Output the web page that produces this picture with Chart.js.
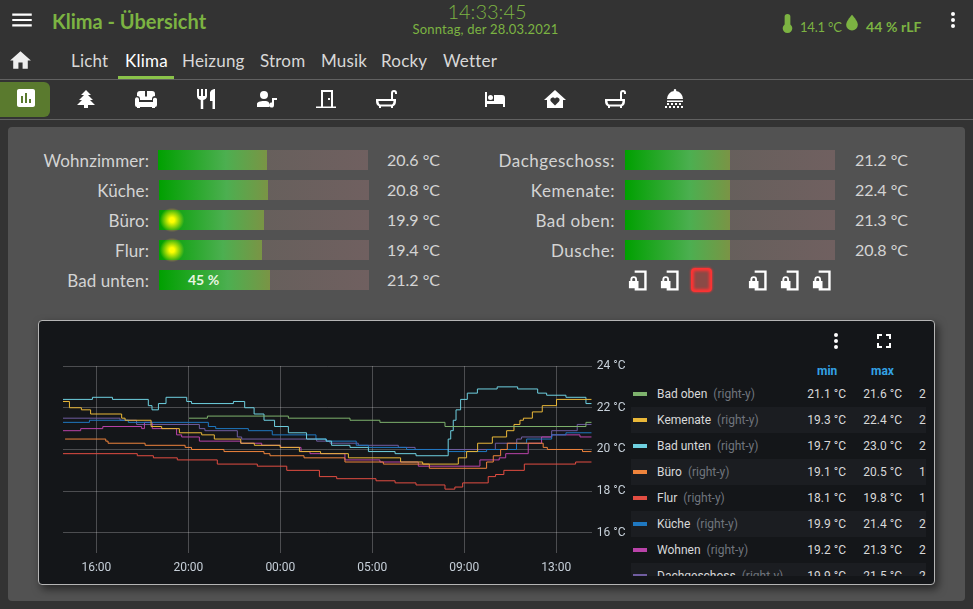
<!DOCTYPE html>
<html>
<head>
<meta charset="utf-8">
<script src="https://cdn.jsdelivr.net/npm/chart.js@4"></script>
<style>
html,body{margin:0;padding:0;width:973px;height:609px;overflow:hidden;background:#333;font-family:Lato,sans-serif;}
.t{position:absolute;white-space:nowrap;line-height:1;}
.abs{position:absolute;}
svg{position:absolute;fill:#fff;}
#panel{position:absolute;left:8px;top:127px;width:957px;height:474px;background:#525252;border-radius:4px;}
#card{position:absolute;left:38px;top:320px;width:895px;height:263px;background:#141619;border:1px solid #b5b5b5;border-radius:4px;box-shadow:3px 4px 8px rgba(0,0,0,.55);}
#chartBox{position:absolute;left:40px;top:350px;}
#legend{position:absolute;left:631px;top:381px;width:295px;height:195px;overflow:hidden;font-family:Roboto,sans-serif;font-size:12px;}
.row{position:absolute;left:0;width:295px;height:26px;line-height:26px;white-space:nowrap;}
.row span{position:absolute;top:0;}
</style>
</head>
<body>
<div id="panel"></div>
<div id="card"></div>
<div id="chartBox"><canvas id="klimaChart" width="590" height="230"></canvas></div>
<div id="legend"></div>
<script>
// hours since 16:00 (real time, the clock jumps 02:00 -> 03:00 that night)
const xTickHours = [0, 4, 8, 12, 16, 20];
const xTickLabels = ['16:00', '20:00', '00:00', '05:00', '09:00', '13:00'];
const yTicks = [16, 18, 20, 22, 24];

const badObenHours = [4.03, 4.83, 8.35, 11.03, 12.33, 15.16, 21.29, 21.54];
const badObenTemps = [21.5, 21.6, 21.5, 21.4, 21.3, 21.1, 21.3, 21.3];

const kemenateHours = [-1.45, -1.17, -0.65, -0.25, 1.10, 1.25, 2.38, 2.84, 3.61, 4.58, 5.13, 6.28, 6.87, 7.99, 8.83, 9.75, 10.96, 13.23, 14.19, 15.74, 16.10, 16.58, 17.22, 17.84, 18.16, 18.42, 18.57, 18.96, 19.39, 20.01, 21.54];
const kemenateTemps = [22.3, 22.0, 21.9, 21.7, 21.5, 21.4, 21.1, 21.0, 20.8, 20.7, 20.5, 20.3, 20.2, 20.1, 19.9, 19.8, 19.6, 19.4, 19.3, 19.6, 19.9, 20.3, 20.6, 20.9, 21.2, 21.4, 21.5, 21.8, 22.1, 22.4, 22.4];

const badUntenHours = [-1.45, -0.17, 0.70, 2.26, 2.42, 2.70, 3.03, 3.93, 4.14, 5.96, 6.45, 6.86, 7.29, 7.75, 8.35, 9.14, 9.99, 10.23, 11.03, 11.83, 12.99, 13.90, 15.30, 15.41, 15.52, 15.64, 15.84, 16.13, 16.57, 17.43, 18.32, 19.19, 19.58, 20.42, 21.29, 21.54];
const badUntenTemps = [22.4, 22.5, 22.4, 22.1, 21.9, 22.2, 22.5, 22.3, 22.2, 22.3, 22.0, 21.7, 21.4, 21.1, 20.8, 20.5, 20.4, 20.2, 20.1, 19.9, 19.8, 19.7, 20.5, 20.9, 21.4, 21.9, 22.4, 22.7, 22.9, 23.0, 22.9, 22.7, 22.6, 22.5, 22.2, 22.2];

const bueroHours = [-1.36, 0.41, 0.51, 2.12, 3.86, 4.14, 5.55, 7.29, 7.55, 9.03, 10.81, 12.48, 14.48, 16.97, 17.26, 17.58, 17.87, 19.43, 19.61, 21.14, 21.54];
const bueroTemps = [20.5, 20.4, 20.3, 20.2, 20.1, 20.0, 19.9, 19.8, 19.7, 19.6, 19.4, 19.3, 19.1, 19.4, 19.7, 20.0, 20.3, 20.1, 20.0, 19.9, 19.9];

const flurHours = [-1.45, 1.78, 2.48, 3.52, 5.26, 7.00, 8.28, 9.70, 10.45, 12.16, 12.99, 13.90, 15.16, 15.59, 15.93, 17.04, 17.36, 17.72, 18.61, 20.84, 21.54];
const flurTemps = [19.8, 19.7, 19.6, 19.5, 19.3, 19.2, 19.0, 18.7, 18.6, 18.5, 18.4, 18.3, 18.1, 18.2, 18.4, 18.7, 18.8, 19.0, 19.3, 19.4, 19.4];

const kuecheHours = [-1.45, -0.30, 1.39, 4.87, 5.19, 6.61, 7.65, 9.55, 10.01, 11.30, 11.83, 13.49, 15.30, 16.97, 18.27, 18.71, 19.80, 20.42, 21.54];
const kuecheTemps = [21.3, 21.4, 21.3, 21.1, 21.0, 20.9, 20.7, 20.5, 20.4, 20.2, 20.1, 20.0, 19.9, 20.0, 20.3, 20.5, 20.7, 20.8, 20.8];

const wohnenHours = [-1.45, -0.68, 0.28, 1.97, 2.09, 2.43, 3.49, 3.71, 4.48, 6.28, 7.19, 8.01, 8.90, 9.29, 10.81, 12.33, 14.00, 16.68, 17.52, 17.80, 18.78, 19.36, 19.80, 21.03, 21.54];
const wohnenTemps = [20.9, 21.0, 21.1, 21.0, 21.3, 21.0, 20.7, 20.6, 20.4, 20.3, 20.2, 20.1, 19.9, 19.8, 19.5, 19.4, 19.2, 19.5, 19.6, 19.8, 20.3, 20.6, 20.7, 20.6, 20.6];

const dachHours = [-1.45, 1.03, 1.75, 4.48, 4.72, 6.13, 6.32, 9.58, 10.16, 11.39, 13.13, 13.86, 17.35, 18.28, 18.49, 19.80, 20.91, 21.54];
const dachTemps = [21.5, 21.4, 21.2, 21.0, 20.9, 20.6, 20.5, 20.4, 20.3, 20.2, 20.1, 20.0, 20.3, 20.5, 20.6, 20.9, 21.2, 21.2];

const seriesNames = ['Bad oben', 'Kemenate', 'Bad unten', 'Büro', 'Flur', 'Küche', 'Wohnen', 'Dachgeschoss'];
const seriesHours = [badObenHours, kemenateHours, badUntenHours, bueroHours, flurHours, kuecheHours, wohnenHours, dachHours];
const seriesTemps = [badObenTemps, kemenateTemps, badUntenTemps, bueroTemps, flurTemps, kuecheTemps, wohnenTemps, dachTemps];
const seriesColors = ['#7EB26D', '#EAB839', '#6ED0E0', '#EF843C', '#E24D42', '#1F78C1', '#BA43A9', '#705DA0'];
const seriesMin = ['21.1', '19.3', '19.7', '19.1', '18.1', '19.9', '19.2', '19.9'];
const seriesMax = ['21.6', '22.4', '23.0', '20.5', '19.8', '21.4', '21.3', '21.5'];
const seriesNow = ['21.3', '22.4', '22.2', '19.9', '19.4', '20.8', '20.6', '21.2'];

const navLabels = ['Licht', 'Klima', 'Heizung', 'Strom', 'Musik', 'Rocky', 'Wetter'];
const navX = [71, 125, 182, 260, 321, 381, 443];

const leftRooms = ['Wohnzimmer:', 'Küche:', 'Büro:', 'Flur:', 'Bad unten:'];
const leftTemps = ['20.6', '20.8', '19.9', '19.4', '21.2'];
const leftFill = [109, 109, 105, 103, 111];
const rightRooms = ['Dachgeschoss:', 'Kemenate:', 'Bad oben:', 'Dusche:'];
const rightTemps = ['21.2', '22.4', '21.3', '20.8'];
const rightFill = [105, 105, 105, 105];

const datasets = seriesNames.map((name, i) => ({
    label: name,
    data: seriesHours[i].map((h, k) => ({ x: h, y: seriesTemps[i][k] })),
    borderColor: seriesColors[i],
    borderWidth: 1,
    pointRadius: 0,
    stepped: true,
    fill: false
}));

new Chart(document.getElementById('klimaChart').getContext('2d'), {
    type: 'line',
    data: { datasets: datasets },
    options: {
        responsive: false,
        animation: false,
        devicePixelRatio: 1,
        layout: { padding: { left: 23, top: 16, right: 0, bottom: 0 } },
        plugins: { legend: { display: false }, tooltip: { enabled: false } },
        scales: {
            x: {
                type: 'linear',
                min: -1.45,
                max: 21.54,
                afterBuildTicks: s => { s.ticks = xTickHours.map(v => ({ value: v })); },
                afterFit: s => { s.height = 27; },
                grid: { color: 'rgba(255,255,255,0.24)', drawTicks: false },
                border: { display: false },
                ticks: {
                    color: '#c7d0d9',
                    font: { family: 'Roboto', size: 12 },
                    maxRotation: 0,
                    autoSkip: false,
                    padding: 8,
                    callback: (v, i) => xTickLabels[i]
                }
            },
            y: {
                position: 'right',
                min: 15.04,
                max: 24,
                afterBuildTicks: s => { s.ticks = yTicks.map(v => ({ value: v })); },
                afterFit: s => { s.width = 38.3; },
                grid: { color: 'rgba(255,255,255,0.24)', drawTicks: false },
                border: { display: false },
                ticks: {
                    color: '#c7d0d9',
                    font: { family: 'Roboto', size: 12 },
                    padding: 5,
                    callback: v => v + ' °C'
                }
            }
        }
    }
});

// page furniture below, nothing here is chart data
const green = '#7cb342';

function text(str, x, y, size, color, opts) {
    const o = opts || {};
    const el = document.createElement('div');
    el.className = 't';
    el.textContent = str;
    el.style.top = (y - size / 2) + 'px';
    el.style.fontSize = size + 'px';
    el.style.color = color;
    if (o.right !== undefined) { el.style.right = (973 - o.right) + 'px'; }
    else if (o.center) { el.style.left = x + 'px'; el.style.transform = 'translateX(-50%)'; }
    else { el.style.left = x + 'px'; }
    if (o.weight) el.style.fontWeight = o.weight;
    if (o.spacing) el.style.letterSpacing = o.spacing + 'px';
    document.body.appendChild(el);
    return el;
}

function box(x, y, w, h, css) {
    const el = document.createElement('div');
    el.className = 'abs';
    el.style.cssText += `left:${x}px;top:${y}px;width:${w}px;height:${h}px;` + (css || '');
    document.body.appendChild(el);
    return el;
}

function icon(path, cx, cy, size, color) {
    const ns = 'http://www.w3.org/2000/svg';
    const s = document.createElementNS(ns, 'svg');
    s.setAttribute('viewBox', '0 0 24 24');
    s.setAttribute('width', size);
    s.setAttribute('height', size);
    s.style.left = (cx - size / 2) + 'px';
    s.style.top = (cy - size / 2) + 'px';
    s.style.fill = color || '#fff';
    const p = document.createElementNS(ns, 'path');
    p.setAttribute('d', path);
    s.appendChild(p);
    document.body.appendChild(s);
}

const ICON = {
    menu: 'M3,6H21V8H3V6M3,11H21V13H3V11M3,16H21V18H3V16Z',
    dots: 'M12,16A2,2 0 0,1 14,18A2,2 0 0,1 12,20A2,2 0 0,1 10,18A2,2 0 0,1 12,16M12,10A2,2 0 0,1 14,12A2,2 0 0,1 12,14A2,2 0 0,1 10,12A2,2 0 0,1 12,10M12,4A2,2 0 0,1 14,6A2,2 0 0,1 12,8A2,2 0 0,1 10,6A2,2 0 0,1 12,4Z',
    home: 'M10,20V14H14V20H19V12H22L12,3L2,12H5V20H10Z',
    full: 'M5,5H10V7H7V10H5V5M14,5H19V10H17V7H14V5M17,14H19V19H14V17H17V14M10,17V19H5V14H7V17H10Z',
    chart: 'M19 3H5C3.9 3 3 3.9 3 5V19C3 20.1 3.9 21 5 21H19C20.1 21 21 20.1 21 19V5C21 3.9 20.1 3 19 3M9 17H7V10H9V17M13 17H11V7H13V17M17 17H15V13H17V17Z',
    tree: 'M10,21V18H3L8,13H5L10,8H7L12,3L17,8H14L19,13H16L21,18H14V21H10Z',
    sofa: 'M6 4H11V9.5H13V4H18A3 3 0 0 1 21 7V9A3 3 0 0 0 18 12V13H6V12A3 3 0 0 0 3 9V7A3 3 0 0 1 6 4M2.8 10.2A2.2 2.2 0 0 1 5 12V15H19V12A2.2 2.2 0 0 1 23 12V18A2 2 0 0 1 21 20V21H18V20H6V21H3V20A2 2 0 0 1 1 18V12A2.2 2.2 0 0 1 2.8 10.2Z',
    food: 'M11,9H9V2H7V9H5V2H3V9C3,11.12 4.66,12.84 6.75,12.97V22H9.25V12.97C11.34,12.84 13,11.12 13,9V2H11V9M16,6V14H18.5V22H21V2C18.24,2 16,4.24 16,6Z',
    person: 'M10 4A4 4 0 0 1 14 8A4 4 0 0 1 10 12A4 4 0 0 1 6 8A4 4 0 0 1 10 4M10 14C13 14 15 14.6 15 16V20H3V17C3 15 6 14 10 14M18 11H23V13H20V18A2.5 2.5 0 1 1 18 15.6V11Z',
    door: 'M2 21H22V19.6H19V3H7V19.6H2V21M9 5H17V19.6H9V5M14 11V13H16V11H14Z',
    tub: 'M2 12H17V6A3 3 0 0 1 23 6V7H21V6A1 1 0 0 0 19 6V12H22V14C22 17 21 18.5 19 19.2V21H17V19.5H7V21H5V19.2C3 18.5 2 17 2 14V12M4.5 14C4.5 16.5 5.5 17.6 7 17.6H17C18.5 17.6 19.5 16.5 19.5 14H4.5Z',
    bed: 'M2 5H4V14H11V8H19A3 3 0 0 1 22 11V20H20V17H4V20H2V5M7.5 8A2.5 2.5 0 0 1 7.5 13A2.5 2.5 0 0 1 7.5 8Z',
    heart: 'M12 3L23 13H20V21H4V13H1L12 3M12 18.5L16 14.5C17.5 12.8 16 10.5 14 10.5C13 10.5 12.4 11 12 11.6C11.6 11 11 10.5 10 10.5C8 10.5 6.5 12.8 8 14.5L12 18.5Z',
    shower: 'M12 2A1.2 1.2 0 0 1 13 4A8 8 0 0 1 20 12H4A8 8 0 0 1 11 4A1.2 1.2 0 0 1 12 2M4 13.5H20V15H4V13.5M4 16H6V18H4V16M8 16H10V18H8V16M12 16H14V18H12V16M16 16H18V18H16V16M6 19H8V21H6V19M10 19H12V21H10V19M14 19H16V21H14V19M18 19H20V21H18V19M2 19H4V21H2V19Z',
    therm: 'M15 13V5A3 3 0 0 0 9 5V13A5 5 0 1 0 15 13Z',
    drop: 'M12,21A7,7 0 0,1 5,14C5,9.5 12,2 12,2C12,2 19,9.5 19,14A7,7 0 0,1 12,21Z',
    lock: 'M8 1.5H20.5V22.5H8V20H18V4H8V1.5M7 7.5A3.5 3.5 0 0 1 10.5 11V12.5H12V20H2V12.5H3.5V11A3.5 3.5 0 0 1 7 7.5M7 9.5A1.5 1.5 0 0 0 5.5 11V12.5H8.5V11A1.5 1.5 0 0 0 7 9.5Z'
};

// header
icon(ICON.menu, 22, 20, 26);
text('Klima - Übersicht', 52, 21, 20, green, { weight: 700 });
text('14:33:45', 487, 11, 20, green, { center: true, weight: 300 });
text('Sonntag, der 28.03.2021', 485.5, 29, 13, green, { center: true, spacing: 0.2 });
icon(ICON.therm, 787, 23, 23, green);
text('14.1 °C', 800, 27, 13, green, { spacing: -0.2 });
icon(ICON.drop, 852, 23, 20, green);
text('44 % rLF', 866, 27, 14, green, { weight: 700, spacing: 0.1 });
icon(ICON.dots, 953, 20, 24);

// tabs
icon(ICON.home, 20, 60, 25, '#eee');
navLabels.forEach((label, i) => {
    text(label, navX[i], 60, 17, i === 1 ? '#fff' : '#d8d8d8', { spacing: 0.2 });
});
box(118, 76, 56, 3, 'background:#8bc34a;');
box(0, 79, 973, 1, 'background:#616161;');
box(0, 119, 973, 1, 'background:#616161;');

// room icons
box(0, 82, 50, 35, 'background:#5a7a2e;border-radius:0 6px 6px 0;');
icon(ICON.chart, 26, 98, 24);
icon(ICON.tree, 86, 99, 24);
icon(ICON.sofa, 146, 99, 24);
icon(ICON.food, 206, 99, 24);
icon(ICON.person, 266, 99, 24);
icon(ICON.door, 326, 99, 24);
icon(ICON.tub, 386, 99, 24);
icon(ICON.bed, 495, 99, 24);
icon(ICON.heart, 555, 99, 24);
icon(ICON.tub, 615, 99, 24);
icon(ICON.shower, 675, 99, 24);

// temperature bars
function bar(room, temp, fill, y, barX, labelRight, valueRight, spacing) {
    text(room, 0, y + 10, 17, '#d4d4d4', { right: labelRight, spacing: spacing });
    box(barX, y, 210, 20, 'background:linear-gradient(90deg,#5d5f58,#706060);');
    box(barX, y, fill, 20, 'background:linear-gradient(90deg,#00a000 0%,#4caf50 62%,#7a9445 100%);');
    text(temp + ' °C', 0, y + 10, 16, '#d4d4d4', { right: valueRight });
}
leftRooms.forEach((room, i) => {
    bar(room, leftTemps[i], leftFill[i], 150 + i * 30, i === 0 ? 158 : 159, 149, 440, 0.1);
});
rightRooms.forEach((room, i) => {
    bar(room, rightTemps[i], rightFill[i], 150 + i * 30, 625, 615, 908, 0.5);
});
const glow = 'background:radial-gradient(circle,#ffff00 0%,#ffff00 14%,rgba(255,255,0,0) 72%);';
box(160, 208, 24, 24, glow);
box(160, 238, 24, 24, glow);
text('45 %', 188, 280, 14, '#e8f5e0', { weight: 700 });

// door contacts
[638, 670, 758, 790, 822].forEach(x => icon(ICON.lock, x, 280, 23));
box(691, 268, 21, 24, 'border-radius:4px;background:#8a4a46;box-shadow:inset 0 0 3px 3px #f33,0 0 2px 1px rgba(255,50,50,.5);');

// card buttons
icon(ICON.dots, 836, 341, 24);
icon(ICON.full, 884, 341, 24);

// legend table
text('min', 817, 371, 12, '#33a2e5', { weight: 700 }).style.fontFamily = 'Roboto';
text('max', 871, 371, 12, '#33a2e5', { weight: 700 }).style.fontFamily = 'Roboto';
const legend = document.getElementById('legend');
seriesNames.forEach((name, i) => {
    const row = document.createElement('div');
    row.className = 'row';
    row.style.top = (i * 26) + 'px';
    if (i % 2 === 1) row.style.background = '#1b1d21';
    row.innerHTML =
        `<i style="position:absolute;left:2px;top:11px;width:14px;height:4px;background:${seriesColors[i]}"></i>` +
        `<span style="left:26px;color:#d8d9da">${name}<b style="font-weight:400;color:#70757d;margin-left:6px">(right-y)</b></span>` +
        `<span style="right:80px;color:#d8d9da">${seriesMin[i]} °C</span>` +
        `<span style="right:24px;color:#d8d9da">${seriesMax[i]} °C</span>` +
        `<span style="left:288px;color:#d8d9da">${seriesNow[i]} °C</span>`;
    legend.appendChild(row);
});
</script>
</body>
</html>
